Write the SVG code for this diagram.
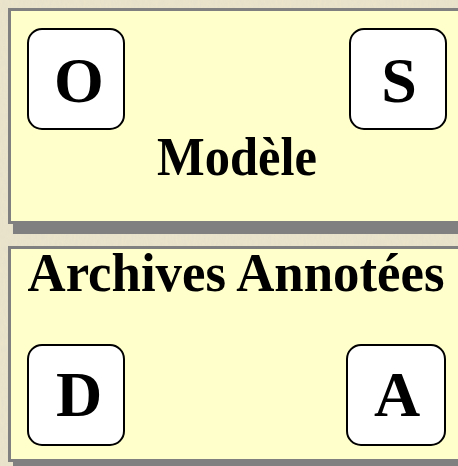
<svg xmlns="http://www.w3.org/2000/svg" width="458" height="466" viewBox="0 0 458 466">
  <defs>
    <filter id="paper" x="0" y="0" width="100%" height="100%">
      <feTurbulence type="fractalNoise" baseFrequency="0.5 0.15" numOctaves="3" seed="4" result="n"/>
      <feColorMatrix in="n" type="matrix" values="0 0 0 0 0.78  0 0 0 0 0.74  0 0 0 0 0.60  0 0 0 1.2 -0.3"/>
    </filter>
    <style>
      .panel { fill: #ffffcc; stroke: #808080; stroke-width: 3; }
      .shadow { fill: #808080; }
      .node rect { fill: #ffffff; stroke: #000000; stroke-width: 2; }
      .letter { font-family: "Liberation Serif", "Times New Roman", serif; font-weight: bold; font-size: 64px; fill: #000; text-anchor: middle; }
      .title { font-family: "Liberation Serif", "Times New Roman", serif; font-weight: bold; font-size: 54px; fill: #000; text-anchor: middle; }
    </style>
  </defs>
  <rect x="0" y="0" width="458" height="466" fill="#ebe4cb"/>
  <rect x="0" y="0" width="458" height="466" fill="#ebe4cb" filter="url(#paper)"/>

  <g id="panel-modele">
    <rect class="shadow" x="13" y="20" width="460" height="214"/>
    <rect class="panel" x="9.5" y="9.5" width="460" height="213"/>
    <text class="title" x="237" y="175" textLength="160" lengthAdjust="spacingAndGlyphs">Modèle</text>
  </g>

  <g id="panel-archives">
    <rect class="shadow" x="13" y="258" width="460" height="214"/>
    <rect class="panel" x="9.5" y="247.5" width="460" height="213"/>
    <text class="title" x="236" y="291" font-size="51" textLength="417" lengthAdjust="spacingAndGlyphs">Archives Annotées</text>
  </g>

  <g id="node-O" class="node">
    <rect x="28" y="29" width="96" height="100" rx="14"/>
    <text class="letter" x="79" y="102">O</text>
  </g>
  <g id="node-S" class="node">
    <rect x="350" y="29" width="96" height="100" rx="14"/>
    <text class="letter" x="399" y="102">S</text>
  </g>
  <g id="node-D" class="node">
    <rect x="28" y="345" width="96" height="100" rx="14"/>
    <text class="letter" x="79" y="416">D</text>
  </g>
  <g id="node-A" class="node">
    <rect x="347" y="345" width="98" height="100" rx="14"/>
    <text class="letter" x="397" y="416">A</text>
  </g>

  <g id="connectors"/>
</svg>
